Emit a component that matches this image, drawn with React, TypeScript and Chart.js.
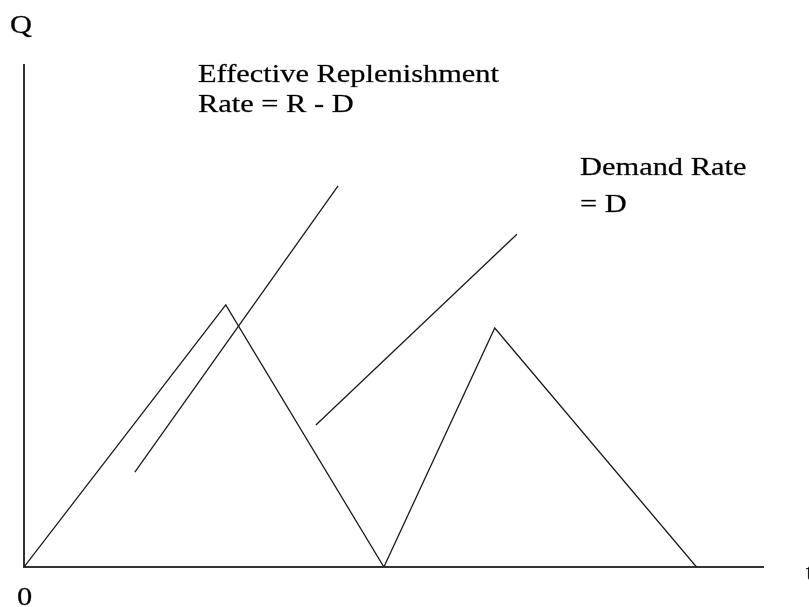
import React, { useEffect, useRef } from "react";
import { Chart, registerables } from "chart.js";

Chart.register(...registerables);

// Inventory profile (time t, quantity Q), both axes on a 0–100 scale
const inventoryT = [0, 27.3, 48.7, 63.7, 91.0];
const inventoryQ = [0, 52.2, 0, 47.6, 0];

// Annotation line: effective replenishment rate
const replenishT = [15.0, 42.5];
const replenishQ = [18.9, 75.9];

// Annotation line: demand rate
const demandT = [39.5, 66.7];
const demandQ = [28.3, 66.3];

// Text labels
const yAxisLabel = "Q";
const xAxisLabel = "t";
const originLabel = "0";
const replenishLabel = ["Effective Replenishment", "Rate = R - D"];
const demandLabel = ["Demand Rate", "= D"];

const toPoints = (xs: number[], ys: number[]) => xs.map((x, i) => ({ x, y: ys[i] }));

const textPlugin = {
  id: "textLabels",
  afterDraw(chart: any) {
    const ctx = chart.ctx as CanvasRenderingContext2D;
    const put = (text: string, x: number, y: number) => {
      ctx.save();
      ctx.translate(x, y);
      ctx.scale(1.17, 1);
      ctx.fillText(text, 0, 0);
      ctx.strokeText(text, 0, 0);
      ctx.restore();
    };
    ctx.save();
    ctx.fillStyle = "#000";
    ctx.strokeStyle = "rgba(0,0,0,0.55)";
    ctx.lineWidth = 0.45;
    ctx.textBaseline = "alphabetic";
    ctx.textAlign = "left";
    ctx.font = "26px 'Liberation Serif'";
    put(yAxisLabel, 10, 33);
    put(originLabel, 17, 605);
    put(xAxisLabel, 806, 580);
    put(replenishLabel[0], 198, 82);
    put(replenishLabel[1], 198, 112);
    put(demandLabel[0], 580, 175);
    put(demandLabel[1], 580, 212);
    ctx.restore();
  },
};

export default function App() {
  const ref = useRef<HTMLCanvasElement | null>(null);

  useEffect(() => {
    if (!ref.current) return;
    const lineStyle = {
      showLine: true,
      borderColor: "#1a1a1a",
      borderWidth: 1.3,
      pointRadius: 0,
      fill: false,
      tension: 0,
    };
    const axis = {
      type: "linear" as const,
      min: 0,
      max: 100,
      display: true,
      ticks: { display: false },
      grid: { display: false, drawTicks: false },
      border: { display: true, color: "#333", width: 2 },
    };
    const chart = new Chart(ref.current, {
      type: "scatter",
      data: {
        datasets: [
          { label: "Inventory", data: toPoints(inventoryT, inventoryQ), ...lineStyle },
          { label: "Replenishment", data: toPoints(replenishT, replenishQ), ...lineStyle },
          { label: "Demand", data: toPoints(demandT, demandQ), ...lineStyle },
        ],
      },
      options: {
        animation: false,
        responsive: false,
        devicePixelRatio: 1,
        layout: { padding: { left: 24, right: 46, top: 65, bottom: 40 } },
        plugins: {
          legend: { display: false },
          tooltip: { enabled: false },
          title: { display: false },
        },
        scales: { x: axis, y: axis },
      } as any,
      plugins: [textPlugin],
    });
    return () => chart.destroy();
  }, []);

  return (
    <div style={{ position: "absolute", left: 0, top: 0, width: 809, height: 607, background: "#fff" }}>
      <canvas ref={ref} width={809} height={607} style={{ width: 809, height: 607, display: "block" }} />
    </div>
  );
}
